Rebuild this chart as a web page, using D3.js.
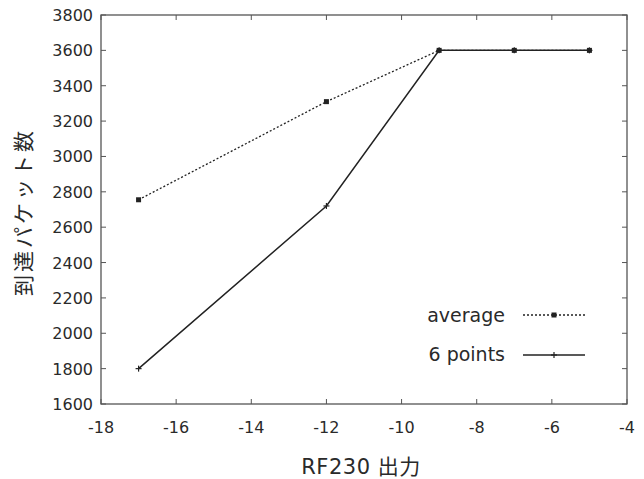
<!DOCTYPE html>
<html>
<head>
<meta charset="utf-8">
<script src="https://cdn.jsdelivr.net/npm/d3@7"></script>
<style>
  body { margin: 0; background: #fff; }
  text { font-family: "DejaVu Sans", "Noto Sans CJK JP", sans-serif; fill: #2a2a2a; }
</style>
</head>
<body>
<svg width="644" height="479"></svg>
<script>
const power = [-17, -12, -9, -7, -5];
const average = [2755, 3310, 3600, 3600, 3600];
const sixPoints = [1800, 2720, 3600, 3600, 3600];
const xTicks = [-18, -16, -14, -12, -10, -8, -6, -4];
const yTicks = [1600, 1800, 2000, 2200, 2400, 2600, 2800, 3000, 3200, 3400, 3600, 3800];

const svg = d3.select("svg");
const plotL = 101, plotR = 627, plotT = 15, plotB = 404;

const x = d3.scaleLinear().domain([-18, -4]).range([plotL, plotR]);
const y = d3.scaleLinear().domain([1600, 3800]).range([plotB, plotT]);

// frame
svg.append("rect")
  .attr("x", plotL).attr("y", plotT)
  .attr("width", plotR - plotL).attr("height", plotB - plotT)
  .attr("fill", "none").attr("stroke", "#555").attr("stroke-width", 1.3);

// ticks (inward, mirrored)
let tk = 5;
xTicks.forEach(t => {
  svg.append("line").attr("x1", x(t)).attr("x2", x(t)).attr("y1", plotB).attr("y2", plotB - tk).attr("stroke", "#555");
  svg.append("line").attr("x1", x(t)).attr("x2", x(t)).attr("y1", plotT).attr("y2", plotT + tk).attr("stroke", "#555");
  svg.append("text").attr("x", x(t)).attr("y", plotB + 29)
    .attr("text-anchor", "middle").attr("font-size", 16).text(t);
});
yTicks.forEach(t => {
  svg.append("line").attr("x1", plotL).attr("x2", plotL + tk).attr("y1", y(t)).attr("y2", y(t)).attr("stroke", "#555");
  svg.append("line").attr("x1", plotR).attr("x2", plotR - tk).attr("y1", y(t)).attr("y2", y(t)).attr("stroke", "#555");
  svg.append("text").attr("x", plotL - 8).attr("y", y(t) + 6)
    .attr("text-anchor", "end").attr("font-size", 16).text(t);
});

// axis titles
svg.append("text").attr("x", 361).attr("y", 474)
  .attr("text-anchor", "middle").attr("font-size", 21).attr("letter-spacing", 0.5).text("RF230 出力");
svg.append("text").attr("transform", "translate(31,212) rotate(-90)")
  .attr("text-anchor", "middle").attr("font-size", 21).attr("letter-spacing", 3).text("到達パケット数");

const line = d3.line().x(d => x(d[0])).y(d => y(d[1]));
const avgData = power.map((p, i) => [p, average[i]]);
const sixData = power.map((p, i) => [p, sixPoints[i]]);

svg.append("path").datum(avgData).attr("d", line)
  .attr("fill", "none").attr("stroke", "#222").attr("stroke-width", 1.3).attr("stroke-dasharray", "2,2");
svg.append("path").datum(sixData).attr("d", line)
  .attr("fill", "none").attr("stroke", "#222").attr("stroke-width", 1.5);

function square(g, cx, cy) {
  g.append("rect").attr("x", cx - 2.5).attr("y", cy - 2.5).attr("width", 5).attr("height", 5).attr("fill", "#222");
}
function plus(g, cx, cy) {
  g.append("line").attr("x1", cx - 3).attr("x2", cx + 3).attr("y1", cy).attr("y2", cy).attr("stroke", "#222").attr("stroke-width", 1.2);
  g.append("line").attr("x1", cx).attr("x2", cx).attr("y1", cy - 3).attr("y2", cy + 3).attr("stroke", "#222").attr("stroke-width", 1.2);
}
avgData.forEach(d => square(svg, x(d[0]), y(d[1])));
sixData.forEach(d => plus(svg, x(d[0]), y(d[1])));

// legend
const lg = svg.append("g");
lg.append("text").attr("x", 505).attr("y", 322).attr("text-anchor", "end").attr("font-size", 19).text("average");
lg.append("line").attr("x1", 523).attr("x2", 585).attr("y1", 315).attr("y2", 315)
  .attr("stroke", "#222").attr("stroke-width", 1.3).attr("stroke-dasharray", "2,2");
square(lg, 554, 315);
lg.append("text").attr("x", 505).attr("y", 361).attr("text-anchor", "end").attr("font-size", 19).text("6 points");
lg.append("line").attr("x1", 523).attr("x2", 585).attr("y1", 355).attr("y2", 355)
  .attr("stroke", "#222").attr("stroke-width", 1.5);
plus(lg, 554, 355);
</script>
</body>
</html>
